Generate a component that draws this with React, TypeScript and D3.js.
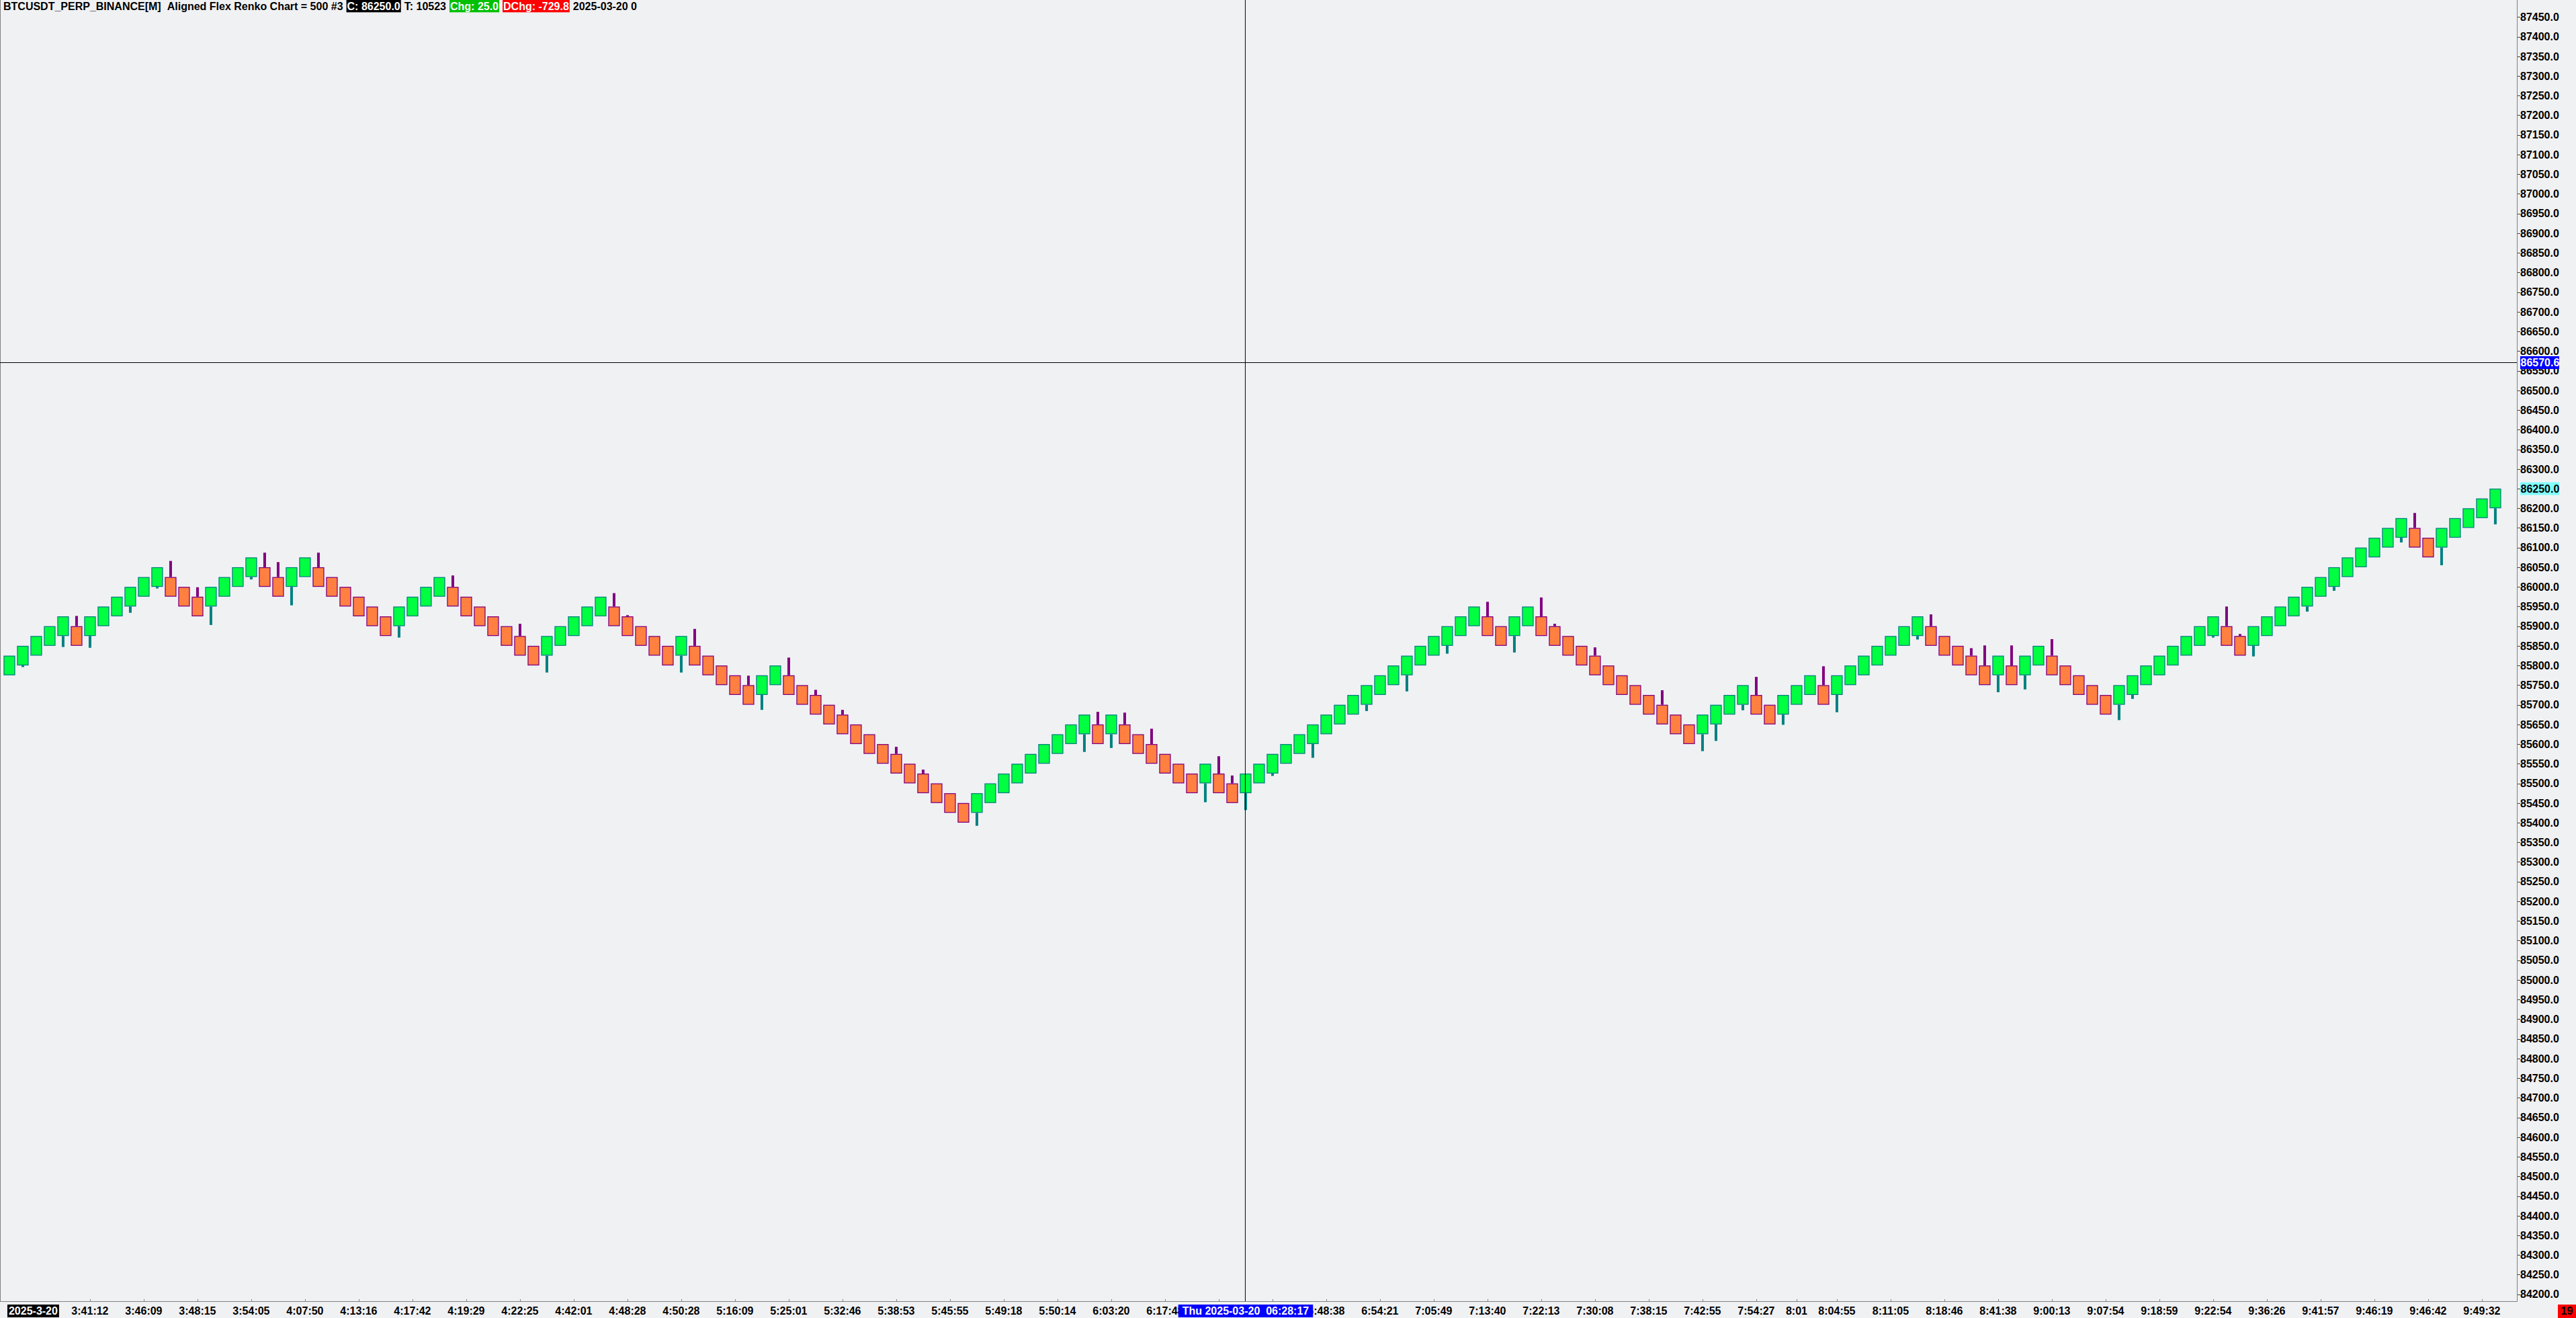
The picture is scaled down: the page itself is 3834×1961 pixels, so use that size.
import React, { useEffect, useRef } from "react";
import * as d3 from "d3";

const WIDTH = 3834;
const HEIGHT = 1961;

const BRICK_SIZE = 50;

// top price of every renko brick, left to right (brick 1 .. 186)
const brickTop: number[] = [
  85825, 85850, 85875, 85900, 85925, 85900, 85925, 85950, 85975, 86000,
  86025, 86050, 86025, 86000, 85975, 86000, 86025, 86050, 86075, 86050,
  86025, 86050, 86075, 86050, 86025, 86000, 85975, 85950, 85925, 85950,
  85975, 86000, 86025, 86000, 85975, 85950, 85925, 85900, 85875, 85850,
  85875, 85900, 85925, 85950, 85975, 85950, 85925, 85900, 85875, 85850,
  85875, 85850, 85825, 85800, 85775, 85750, 85775, 85800, 85775, 85750,
  85725, 85700, 85675, 85650, 85625, 85600, 85575, 85550, 85525, 85500,
  85475, 85450, 85475, 85500, 85525, 85550, 85575, 85600, 85625, 85650,
  85675, 85650, 85675, 85650, 85625, 85600, 85575, 85550, 85525, 85550,
  85525, 85500, 85525, 85550, 85575, 85600, 85625, 85650, 85675, 85700,
  85725, 85750, 85775, 85800, 85825, 85850, 85875, 85900, 85925, 85950,
  85925, 85900, 85925, 85950, 85925, 85900, 85875, 85850, 85825, 85800,
  85775, 85750, 85725, 85700, 85675, 85650, 85675, 85700, 85725, 85750,
  85725, 85700, 85725, 85750, 85775, 85750, 85775, 85800, 85825, 85850,
  85875, 85900, 85925, 85900, 85875, 85850, 85825, 85800, 85825, 85800,
  85825, 85850, 85825, 85800, 85775, 85750, 85725, 85750, 85775, 85800,
  85825, 85850, 85875, 85900, 85925, 85900, 85875, 85900, 85925, 85950,
  85975, 86000, 86025, 86050, 86075, 86100, 86125, 86150, 86175, 86150,
  86125, 86150, 86175, 86200, 86225, 86250,
];

// wick tips: [brick number, price]. up bricks wick below, down bricks above
const wicks: [number, number][] = [
  [2, 85796], [5, 85847], [6, 85926], [7, 85845], [10, 85934], [12, 85996],
  [13, 86066], [15, 85999], [16, 85903], [19, 86019], [20, 86087], [21, 86063],
  [22, 85953], [24, 86087], [30, 85871], [34, 86029], [39, 85906], [41, 85782],
  [46, 85984], [47, 85928], [51, 85782], [52, 85893], [56, 85774], [57, 85687],
  [59, 85820], [61, 85738], [63, 85687], [67, 85593], [69, 85535], [73, 85392],
  [81, 85580], [82, 85682], [83, 85590], [84, 85680], [86, 85639], [90, 85452],
  [91, 85569], [92, 85520], [93, 85432], [95, 85519], [98, 85565], [102, 85684],
  [105, 85734], [108, 85830], [111, 85962], [113, 85833], [115, 85973], [116, 85906],
  [119, 85846], [124, 85737], [127, 85582], [128, 85608], [130, 85686], [131, 85771],
  [133, 85649], [136, 85798], [137, 85681], [143, 85866], [144, 85930], [147, 85844],
  [148, 85851], [149, 85732], [150, 85851], [151, 85739], [153, 85867], [158, 85661],
  [159, 85715], [165, 85871], [166, 85950], [167, 85880], [168, 85823], [172, 85937],
  [174, 85990], [179, 86113], [180, 86188], [182, 86055], [186, 86159],
];

// time scale labels: [brick number, label]; empty ones sit under the cursor box
const timeLabels: [number, string][] = [
  [7, "3:41:12"], [11, "3:46:09"], [15, "3:48:15"], [19, "3:54:05"],
  [23, "4:07:50"], [27, "4:13:16"], [31, "4:17:42"], [35, "4:19:29"],
  [39, "4:22:25"], [43, "4:42:01"], [47, "4:48:28"], [51, "4:50:28"],
  [55, "5:16:09"], [59, "5:25:01"], [63, "5:32:46"], [67, "5:38:53"],
  [71, "5:45:55"], [75, "5:49:18"], [79, "5:50:14"], [83, "6:03:20"],
  [87, "6:17:48"], [91, ""], [95, ""], [99, "6:48:38"],
  [103, "6:54:21"], [107, "7:05:49"], [111, "7:13:40"], [115, "7:22:13"],
  [119, "7:30:08"], [123, "7:38:15"], [127, "7:42:55"], [131, "7:54:27"],
  [134, "8:01"], [137, "8:04:55"], [141, "8:11:05"], [145, "8:18:46"],
  [149, "8:41:38"], [153, "9:00:13"], [157, "9:07:54"], [161, "9:18:59"],
  [165, "9:22:54"], [169, "9:36:26"], [173, "9:41:57"], [177, "9:46:19"],
  [181, "9:46:42"], [185, "9:49:32"],
];

const yTickValues = d3.range(84200, 87451, 50);

const sessionDate = "2025-3-20";
const cursorTime = "Thu 2025-03-20  06:28:17";
const cursorBrick = 93;
const cursorPrice = 86570.6;
const lastPrice = 86250.0;

const headerParts = [
  { text: "BTCUSDT_PERP_BINANCE[M]", bg: null, color: "#000000" },
  { text: "Aligned Flex Renko Chart = 500 #3", bg: null, color: "#000000" },
  { text: "C: 86250.0", bg: "#000000", color: "#ffffff" },
  { text: "T: 10523", bg: null, color: "#000000" },
  { text: "Chg: 25.0", bg: "#00c000", color: "#ffffff" },
  { text: "DChg: -729.8", bg: "#ff0000", color: "#ffffff" },
  { text: "2025-03-20 0", bg: null, color: "#000000" },
];

const BG = "#f0f1f3";
const UP_FILL = "#00ff40";
const UP_LINE = "#008080";
const DOWN_FILL = "#ff8040";
const DOWN_LINE = "#800080";
const AXIS = "#808080";
const FONT = "'Liberation Sans', Arial, sans-serif";

const App: React.FC = () => {
  const svgRef = useRef<SVGSVGElement>(null);

  useEffect(() => {
    if (!svgRef.current) return;
    const svg = d3.select(svgRef.current);
    svg.selectAll("*").remove();

    const plotRight = 3746;
    const plotBottom = 1937;

    const x = d3
      .scaleLinear()
      .domain([1, brickTop.length])
      .range([13.95, 13.95 + 20 * (brickTop.length - 1)]);
    const y = d3.scaleLinear().domain([84200, 87450]).range([1925.7, 25.3]);

    svg.append("rect").attr("width", WIDTH).attr("height", HEIGHT).attr("fill", BG);

    // left frame
    svg
      .append("line")
      .attr("x1", 0.5)
      .attr("x2", 0.5)
      .attr("y1", 0)
      .attr("y2", plotBottom)
      .attr("stroke", AXIS);

    const wickMap = new Map(wicks);
    const bricks = brickTop.map((top, i) => ({
      n: i + 1,
      top,
      bottom: top - BRICK_SIZE,
      up: i === 0 || top > brickTop[i - 1],
      wick: wickMap.get(i + 1),
    }));

    const g = svg.append("g");

    g.selectAll("rect.wick")
      .data(bricks.filter((d) => d.wick !== undefined))
      .enter()
      .append("rect")
      .attr("class", "wick")
      .attr("x", (d) => x(d.n) - 2)
      .attr("width", 4)
      .attr("y", (d) => (d.up ? y(d.bottom) : y(d.wick!)))
      .attr("height", (d) =>
        d.up ? y(d.wick!) - y(d.bottom) : y(d.top) - y(d.wick!),
      )
      .attr("fill", (d) => (d.up ? UP_LINE : DOWN_LINE));

    g.selectAll("rect.brick")
      .data(bricks)
      .enter()
      .append("rect")
      .attr("class", "brick")
      .attr("x", (d) => x(d.n) - 8)
      .attr("width", 16)
      .attr("y", (d) => y(d.top) + 0.65)
      .attr("height", (d) => y(d.bottom) - y(d.top) - 1.3)
      .attr("fill", (d) => (d.up ? UP_FILL : DOWN_FILL))
      .attr("stroke", (d) => (d.up ? UP_LINE : DOWN_LINE))
      .attr("stroke-width", 1.3);

    // header line
    let cursor = 5;
    headerParts.forEach((p, i) => {
      const t = svg
        .append("text")
        .attr("x", cursor + (p.bg ? 1 : 0))
        .attr("y", 14.5)
        .attr("font-family", FONT)
        .attr("font-weight", "bold")
        .attr("font-size", 16)
        .attr("fill", p.color)
        .text(p.text);
      const w = (t.node() as SVGTextElement).getComputedTextLength();
      if (p.bg) {
        svg
          .insert("rect", () => t.node() as any)
          .attr("x", cursor)
          .attr("y", 0)
          .attr("width", w + 2)
          .attr("height", 18.3)
          .attr("fill", p.bg);
      }
      cursor += w + (p.bg ? 2 : 0) + (i === 0 ? 9 : 5);
    });

    // cursor cross
    const cy = y(cursorPrice);
    svg
      .append("line")
      .attr("x1", x(cursorBrick) - 0.5)
      .attr("x2", x(cursorBrick) - 0.5)
      .attr("y1", 0)
      .attr("y2", plotBottom)
      .attr("stroke", "#000")
      .attr("stroke-width", 1);
    svg
      .append("line")
      .attr("x1", 0)
      .attr("x2", plotRight)
      .attr("y1", cy)
      .attr("y2", cy)
      .attr("stroke", "#000")
      .attr("stroke-width", 1);

    // frame lines
    svg
      .append("line")
      .attr("x1", plotRight + 0.5)
      .attr("x2", plotRight + 0.5)
      .attr("y1", 0)
      .attr("y2", plotBottom)
      .attr("stroke", AXIS);
    svg
      .append("line")
      .attr("x1", 0)
      .attr("x2", plotRight + 1)
      .attr("y1", plotBottom - 0.5)
      .attr("y2", plotBottom - 0.5)
      .attr("stroke", AXIS);

    // price scale
    const yAxis = svg.append("g");
    yTickValues.forEach((v) => {
      yAxis
        .append("line")
        .attr("x1", plotRight + 1)
        .attr("x2", plotRight + 5)
        .attr("y1", Math.round(y(v)) + 0.5)
        .attr("y2", Math.round(y(v)) + 0.5)
        .attr("stroke", "#404040");
      yAxis
        .append("text")
        .attr("x", plotRight + 5)
        .attr("y", y(v))
        .attr("dy", "0.36em")
        .attr("font-family", FONT)
        .attr("font-weight", "bold")
        .attr("font-size", 16)
        .attr("fill", "#000")
        .text(d3.format(".1f")(v));
    });

    const priceTag = (v: number, bg: string, color: string) => {
      const py = y(v);
      yAxis
        .append("rect")
        .attr("x", plotRight + 5)
        .attr("y", py - 9.5)
        .attr("width", 58)
        .attr("height", 19)
        .attr("fill", bg);
      yAxis
        .append("text")
        .attr("x", plotRight + 5.5)
        .attr("y", py)
        .attr("dy", "0.36em")
        .attr("font-family", FONT)
        .attr("font-weight", "bold")
        .attr("font-size", 16)
        .attr("fill", color)
        .text(d3.format(".1f")(v));
    };
    priceTag(lastPrice, "#80ffff", "#000000");
    priceTag(cursorPrice, "#0000ff", "#ffffff");

    // time scale
    const xAxis = svg.append("g");
    const labelY = 1955.5;
    timeLabels.forEach(([n, label]) => {
      xAxis
        .append("line")
        .attr("x1", Math.round(x(n)) + 0.5)
        .attr("x2", Math.round(x(n)) + 0.5)
        .attr("y1", plotBottom - 4)
        .attr("y2", plotBottom)
        .attr("stroke", AXIS);
      if (!label) return;
      xAxis
        .append("text")
        .attr("x", x(n))
        .attr("y", labelY)
        .attr("text-anchor", "middle")
        .attr("font-family", FONT)
        .attr("font-weight", "bold")
        .attr("font-size", 16)
        .attr("fill", "#000")
        .text(label);
    });

    const boxLabel = (
      cx: number,
      text: string,
      bg: string,
      color: string,
      pad: number,
    ) => {
      const t = xAxis
        .append("text")
        .attr("x", cx)
        .attr("y", labelY)
        .attr("text-anchor", "middle")
        .attr("font-family", FONT)
        .attr("font-weight", "bold")
        .attr("font-size", 16)
        .attr("fill", color)
        .attr("xml:space", "preserve")
        .style("white-space", "pre")
        .text(text);
      const w = (t.node() as SVGTextElement).getComputedTextLength();
      xAxis
        .insert("rect", () => t.node() as any)
        .attr("x", cx - w / 2 - pad)
        .attr("y", 1941)
        .attr("width", w + 2 * pad)
        .attr("height", 19)
        .attr("fill", bg);
    };
    boxLabel(x(3) - 4.5, sessionDate, "#000000", "#ffffff", 2);
    boxLabel(x(cursorBrick), cursorTime, "#0000ff", "#ffffff", 6);

    // bar counter in the corner
    svg
      .append("rect")
      .attr("x", 3807)
      .attr("y", 1941)
      .attr("width", 27)
      .attr("height", 20)
      .attr("fill", "#ff0000");
    svg
      .append("text")
      .attr("x", 3820.5)
      .attr("y", labelY + 0.5)
      .attr("text-anchor", "middle")
      .attr("font-family", FONT)
      .attr("font-weight", "bold")
      .attr("font-size", 16)
      .attr("fill", "#000")
      .text("19");
  }, []);

  return (
    <svg
      ref={svgRef}
      width={WIDTH}
      height={HEIGHT}
      style={{ position: "absolute", left: 0, top: 0, display: "block" }}
    ></svg>
  );
};

export default App;
